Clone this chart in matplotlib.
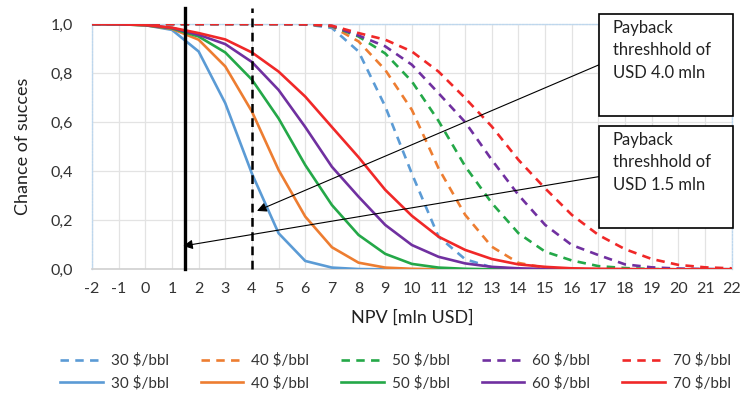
import matplotlib
matplotlib.use("Agg")
import matplotlib.pyplot as plt
from matplotlib.patches import Rectangle

plt.rcParams['font.family'] = ['Lato', 'DejaVu Sans']

npv = list(range(-2, 23))

# dashed series (threshold scenario A)
dash_30 = [1.0, 1.0, 1.0, 1.0, 1.0, 1.0, 1.0, 1.0, 0.999, 0.984, 0.888, 0.664, 0.39, 0.133, 0.041, 0.008, 0.001, 0, 0, 0, 0, 0, 0, 0, 0]
dash_40 = [1.0, 1.0, 1.0, 1.0, 1.0, 1.0, 1.0, 1.0, 0.999, 0.99, 0.929, 0.813, 0.65, 0.412, 0.222, 0.092, 0.026, 0.006, 0.001, 0, 0, 0, 0, 0, 0]
dash_50 = [1.0, 1.0, 1.0, 1.0, 1.0, 1.0, 1.0, 1.0, 0.999, 0.991, 0.949, 0.88, 0.766, 0.605, 0.42, 0.27, 0.147, 0.072, 0.036, 0.013, 0.005, 0.001, 0, 0, 0]
dash_60 = [1.0, 1.0, 1.0, 1.0, 1.0, 1.0, 1.0, 1.0, 0.999, 0.992, 0.953, 0.909, 0.834, 0.718, 0.6, 0.446, 0.303, 0.181, 0.099, 0.058, 0.02, 0.008, 0.003, 0.001, 0]
dash_70 = [1.0, 1.0, 1.0, 1.0, 1.0, 1.0, 1.0, 1.0, 0.999, 0.993, 0.963, 0.936, 0.888, 0.806, 0.698, 0.582, 0.446, 0.33, 0.222, 0.14, 0.082, 0.042, 0.018, 0.008, 0.004]

# solid series (threshold scenario B)
solid_30 = [1.0, 0.999, 0.995, 0.976, 0.888, 0.677, 0.39, 0.147, 0.034, 0.007, 0.001, 0, 0, 0, 0, 0, 0, 0, 0, 0, 0, 0, 0, 0, 0]
solid_40 = [1.0, 0.999, 0.995, 0.98, 0.936, 0.827, 0.643, 0.405, 0.215, 0.09, 0.027, 0.007, 0.002, 0, 0, 0, 0, 0, 0, 0, 0, 0, 0, 0, 0]
solid_50 = [1.0, 0.999, 0.995, 0.982, 0.949, 0.884, 0.773, 0.615, 0.425, 0.262, 0.14, 0.063, 0.022, 0.007, 0.002, 0, 0, 0, 0, 0, 0, 0, 0, 0, 0]
solid_60 = [1.0, 0.999, 0.996, 0.984, 0.956, 0.918, 0.845, 0.731, 0.58, 0.418, 0.296, 0.181, 0.099, 0.051, 0.024, 0.01, 0.004, 0.001, 0, 0, 0, 0, 0, 0, 0]
solid_70 = [1.0, 0.999, 0.996, 0.985, 0.963, 0.937, 0.884, 0.806, 0.704, 0.58, 0.457, 0.324, 0.218, 0.133, 0.079, 0.042, 0.02, 0.01, 0.004, 0.002, 0.001, 0, 0, 0, 0]

labels = ["30 $/bbl", "40 $/bbl", "50 $/bbl", "60 $/bbl", "70 $/bbl"]
colors = ["#5B9BD5", "#ED7D31", "#24A848", "#7030A0", "#F02828"]

y_ticks = [0.0, 0.2, 0.4, 0.6, 0.8, 1.0]
y_ticklabels = ["0,0", "0,2", "0,4", "0,6", "0,8", "1,0"]

thr_solid = 1.5
thr_dash = 4.0

fig = plt.figure(figsize=(7.53, 3.94), dpi=100)
ax = fig.add_axes([0.1222, 0.3165, 0.8495, 0.6226])

# grid
for xv in npv:
    ax.axvline(xv, color="#E3E3E3", lw=0.9, zorder=0)
for yv in y_ticks[1:]:
    ax.axhline(yv, color="#E3E3E3", lw=0.9, zorder=0)

dashed = [dash_30, dash_40, dash_50, dash_60, dash_70]
solid = [solid_30, solid_40, solid_50, solid_60, solid_70]

dash_handles = []
for ser, c, lab in zip(dashed, colors, labels):
    h, = ax.plot(npv, ser, color=c, lw=1.9, ls=(0, (3.2, 2.4)), label=lab, zorder=3)
    dash_handles.append(h)
solid_handles = []
for ser, c, lab in zip(solid, colors, labels):
    h, = ax.plot(npv, ser, color=c, lw=1.9, label=lab, zorder=3)
    solid_handles.append(h)

# threshold lines
ax.plot([thr_solid, thr_solid], [0, 1.065], color="black", lw=2.4, clip_on=False, zorder=4)
ax.plot([thr_dash, thr_dash], [0, 1.065], color="black", lw=1.8, ls=(0, (3.5, 2.2)), clip_on=False, zorder=4)

ax.set_xlim(-2, 22)
ax.set_ylim(0, 1.0)
ax.set_xticks(npv)
ax.set_xticklabels([str(v) for v in npv])
ax.set_yticks(y_ticks)
ax.set_yticklabels(y_ticklabels)
ax.tick_params(axis="both", length=0, labelsize=11.5, colors="#333333", pad=8)
ax.tick_params(axis="x", pad=9)
ax.tick_params(axis="y", pad=14)

for s in ["left", "top", "right"]:
    ax.spines[s].set_color("#BDD7EE")
    ax.spines[s].set_linestyle((0, (1.2, 1.2)))
    ax.spines[s].set_linewidth(1.0)
ax.spines["bottom"].set_color("#D0D0D0")
ax.spines["bottom"].set_linewidth(1.2)

ax.set_xlabel("NPV [mln USD]", fontsize=13, color="#222222", labelpad=10)
ax.set_ylabel("Chance of succes", fontsize=13, color="#222222", labelpad=14)

# callout boxes
box_specs = [
    ((17.03, 0.626), 5.02, 0.416, "Payback\nthreshhold of\nUSD 4.0 mln", (4.19, 0.238), (17.03, 0.834)),
    ((17.03, 0.167), 5.02, 0.418, "Payback\nthreshhold of\nUSD 1.5 mln", (1.42, 0.095), (17.03, 0.378)),
]
for (x0, y0), w, h, txt, tip, start in box_specs:
    ax.add_patch(Rectangle((x0, y0), w, h, facecolor="white", edgecolor="black",
                           lw=1.2, clip_on=False, zorder=6))
    ax.text(x0 + 0.5, y0 + h - 0.025, txt, fontsize=12, va="top", ha="left",
            color="#222222", linespacing=1.5, zorder=7, clip_on=False)
    ax.annotate("", xy=tip, xytext=start,
                arrowprops=dict(arrowstyle="-|>", color="black", lw=0.8,
                                mutation_scale=14, shrinkA=0, shrinkB=0),
                zorder=5)

# legend: row 1 dashed, row 2 solid (matplotlib fills column-wise)
handles = []
leg_labels = []
for dh, sh, lab in zip(dash_handles, solid_handles, labels):
    handles += [dh, sh]
    leg_labels += [lab, lab]
leg = fig.legend(handles=handles, labels=leg_labels, ncol=5, loc="lower center",
                 bbox_to_anchor=(0.525, -0.025), frameon=False, fontsize=11,
                 handlelength=2.8, columnspacing=2.1, handletextpad=0.5,
                 labelspacing=0.5)
for t in leg.get_texts():
    t.set_color("#333333")

fig.savefig("out.png", dpi=100)
